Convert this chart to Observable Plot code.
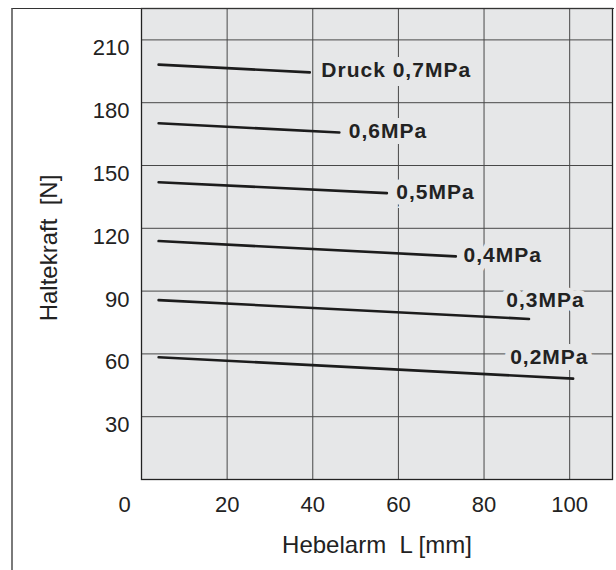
<!DOCTYPE html>
<html><head><meta charset="utf-8">
<script src="https://cdn.jsdelivr.net/npm/d3@7"></script>
<script src="https://cdn.jsdelivr.net/npm/@observablehq/plot@0.6"></script>
<style>
body{margin:0;background:#fff;}
#wrap{position:relative;width:616px;height:570px;overflow:hidden;}
#wrap svg{position:absolute;left:0;top:0;}
#wrap svg g[font-weight="bold"]{letter-spacing:1px;}
#outer{position:absolute;left:11px;top:7.5px;width:601px;height:620px;border-left:2px solid #7a7a7a;border-top:1px solid #333;pointer-events:none;z-index:2;}
</style></head><body><div id="wrap"><div id="outer"></div></div>
<script>
const pressures = ["Druck 0,7MPa","0,6MPa","0,5MPa","0,4MPa","0,3MPa","0,2MPa"];
const lengthStart = [4,4,4,4,4,4];
const lengthEnd = [39.3,46.2,57.3,73.4,90.5,100.8];
const forceStart = [198.2,170.2,142.0,113.9,85.7,58.4];
const forceEnd = [194.5,165.8,136.8,106.6,76.7,48.2];
const labelLength = [42.0,48.4,59.5,75.2,85.2,86.1];
const labelForce = [195.4,166.4,137.0,106.9,85.6,58.2];
const xTicks = [0,20,40,60,80,100];
const yTicks = [30,60,90,120,150,180,210];
const xTitle = "Hebelarm\u00a0\u00a0L [mm]";
const yTitle = "Haltekraft\u00a0\u00a0[N]";

const points = pressures.flatMap((p,i)=>[
  {p, L: lengthStart[i], F: forceStart[i]},
  {p, L: lengthEnd[i], F: forceEnd[i]}
]);
const labels = pressures.map((p,i)=>({p, L: labelLength[i], F: labelForce[i]}));
const bg = "#e6e7e8";
const font = "'Liberation Sans', Arial, sans-serif";

const chart = Plot.plot({
  width: 616, height: 570,
  marginLeft: 141, marginRight: 4, marginTop: 8, marginBottom: 91,
  style: {fontFamily: font, background: "transparent", color: "#222"},
  x: {domain: [0,110]},
  y: {domain: [0,225]},
  marks: [
    Plot.frame({fill: bg, stroke: null}),
    Plot.gridX(xTicks.slice(1), {stroke: "#484848", strokeOpacity: 1, strokeWidth: 1}),
    Plot.gridY(yTicks, {stroke: "#484848", strokeOpacity: 1, strokeWidth: 1}),
    Plot.frame({stroke: "#222", strokeWidth: 1.3}),
    Plot.text(labels, {x: "L", y: "F", text: "p", textAnchor: "start", fontWeight: "bold", fontSize: 21,
      fill: "#222", stroke: bg, strokeWidth: 12, strokeLinejoin: "miter"}),
    Plot.line(points, {x: "L", y: "F", z: "p", stroke: "#1c1c1c", strokeWidth: 2.6}),
    Plot.axisX(xTicks.slice(1), {tickSize: 0, tickPadding: 17, fontSize: 22, fill: "#222", label: null}),
    Plot.axisX([xTicks[0]], {tickSize: 0, tickPadding: 17, fontSize: 22, fill: "#222", dx: -17, label: null}),
    Plot.axisY(yTicks, {tickSize: 0, tickPadding: 12, fontSize: 22, fill: "#222", dy: 8.5, label: null}),
    Plot.text([xTitle], {frameAnchor: "bottom", lineAnchor: "middle", textAnchor: "middle", dy: 66, fontSize: 24, fill: "#222"}),
    Plot.text([yTitle], {frameAnchor: "left", textAnchor: "middle", lineAnchor: "middle", rotate: -90, dx: -92, dy: 4, fontSize: 24, fill: "#222"})
  ]
});
document.getElementById("wrap").appendChild(chart);
</script></body></html>
